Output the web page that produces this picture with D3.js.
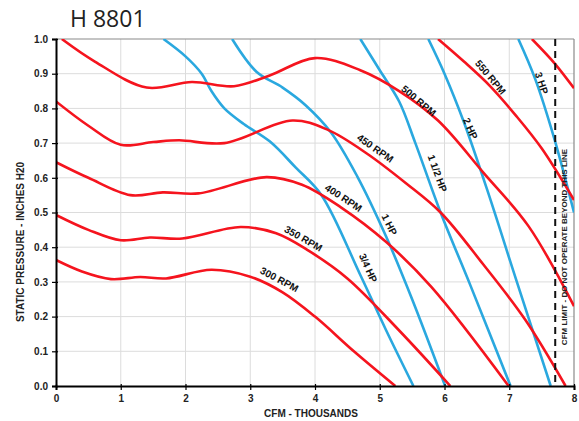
<!DOCTYPE html>
<html>
<head>
<meta charset="utf-8">
<script src="https://cdn.jsdelivr.net/npm/d3@7/dist/d3.min.js"></script>
<style>
body { margin: 0; background: #fff; }
svg text { font-family: "Liberation Sans", Arial, sans-serif; }
</style>
</head>
<body>
<div id="chart"></div>
<script>
//Dados (x = CFM em milhares, y = pol. H2O)
var xTicks = [0, 1, 2, 3, 4, 5, 6, 7, 8];
var yTicks = [0, 0.1, 0.2, 0.3, 0.4, 0.5, 0.6, 0.7, 0.8, 0.9, 1.0];

var rpm300 = [[0,0.363],[0.4,0.33],[0.85,0.308],[1.3,0.314],[1.7,0.31],[2.4,0.335],[3.0,0.315],[3.5,0.27],[4.0,0.2],[4.6,0.1],[5.24,0]];
var rpm350 = [[0,0.493],[0.5,0.45],[1.0,0.42],[1.45,0.428],[1.95,0.425],[2.85,0.458],[3.4,0.44],[3.9,0.39],[4.5,0.31],[5.3,0.16],[6.09,0]];
var rpm400 = [[0,0.645],[0.5,0.6],[1.15,0.55],[1.65,0.558],[2.2,0.555],[3.25,0.602],[3.8,0.58],[4.4,0.515],[5.1,0.415],[5.8,0.285],[6.99,0]];
var rpm450 = [[0,0.82],[0.5,0.75],[1.0,0.695],[1.5,0.703],[1.9,0.708],[2.6,0.7],[3.65,0.765],[4.2,0.738],[4.8,0.67],[5.4,0.585],[5.94,0.5],[6.6,0.35],[7.25,0.19],[7.87,0]];
var rpm500 = [[0.09,1.0],[0.6,0.935],[1.4,0.86],[2.1,0.876],[2.75,0.864],[3.3,0.895],[4.0,0.945],[4.7,0.91],[5.3,0.85],[5.9,0.765],[6.6,0.615],[7.3,0.46],[8,0.23]];
var rpm550 = [[5.9,1.0],[6.3,0.935],[6.7,0.865],[7.1,0.78],[7.5,0.685],[8,0.536]];
var rpm600 = [[7.35,1.0],[7.7,0.93],[8,0.858]];

var hp34 = [[1.66,1.0],[2.0,0.95],[2.25,0.9],[2.4,0.85],[2.6,0.8],[2.9,0.755],[3.3,0.705],[3.7,0.63],[4.1,0.55],[4.7,0.32],[5.1,0.16],[5.52,0]];
var hp1 = [[2.72,1.0],[3.1,0.905],[3.5,0.86],[3.85,0.81],[4.25,0.73],[4.65,0.605],[5.1,0.43],[5.5,0.25],[6.01,0]];
var hp112 = [[4.7,1.0],[5.0,0.91],[5.3,0.82],[5.55,0.7],[5.94,0.5],[6.4,0.29],[7.02,0]];
var hp2 = [[5.75,1.0],[6.0,0.9],[6.3,0.76],[6.66,0.565],[7.1,0.31],[7.64,0]];
var hp3 = [[7.14,1.0],[7.4,0.885],[7.7,0.71],[8,0.5]];

var rpmSeries = [rpm300, rpm350, rpm400, rpm450, rpm500, rpm550, rpm600];
var hpSeries = [hp34, hp1, hp112, hp2, hp3];

var cfmLimit = 7.71;

//Rotulos (texto, x, y, angulo)
var curveLabels = [
	{t: "300 RPM", x: 3.45, y: 0.307, a: 28},
	{t: "350 RPM", x: 3.82, y: 0.425, a: 30},
	{t: "400 RPM", x: 4.44, y: 0.542, a: 33},
	{t: "450 RPM", x: 4.93, y: 0.685, a: 35},
	{t: "500 RPM", x: 5.6, y: 0.822, a: 40},
	{t: "550 RPM", x: 6.71, y: 0.89, a: 50},
	{t: "3/4 HP", x: 4.82, y: 0.34, a: 66},
	{t: "1 HP", x: 5.15, y: 0.465, a: 63},
	{t: "1 1/2 HP", x: 5.89, y: 0.613, a: 70},
	{t: "2 HP", x: 6.4, y: 0.742, a: 66},
	{t: "3 HP", x: 7.5, y: 0.873, a: 72}
];

var margin = {top: 39, right: 5, bottom: 35, left: 56};
var W = 579, H = 421;
var width = W - margin.left - margin.right;
var height = H - margin.top - margin.bottom;

var x = d3.scaleLinear().domain([0, 8]).range([0, width]);
var y = d3.scaleLinear().domain([0, 1]).range([height, 0]);

var svg = d3.select("#chart").append("svg")
	.attr("width", W)
	.attr("height", H);

svg.append("text")
	.attr("x", 70)
	.attr("y", 27)
	.style("font-family", "'Open Sans', sans-serif")
	.style("font-size", "23px")
	.attr("fill", "#222")
	.text("H 8801");

var g = svg.append("g")
	.attr("transform", "translate(" + margin.left + "," + margin.top + ")");

g.append("defs").append("clipPath")
	.attr("id", "clip")
	.append("rect")
	.attr("width", width)
	.attr("height", height);

//Grade
g.selectAll(".gx").data(xTicks.slice(1, -1)).enter().append("line")
	.attr("x1", function(d) { return x(d); })
	.attr("x2", function(d) { return x(d); })
	.attr("y1", 0).attr("y2", height)
	.attr("stroke", "#dcdcdc").attr("stroke-width", 1);
g.selectAll(".gy").data(yTicks.slice(1, -1)).enter().append("line")
	.attr("y1", function(d) { return y(d); })
	.attr("y2", function(d) { return y(d); })
	.attr("x1", 0).attr("x2", width)
	.attr("stroke", "#dcdcdc").attr("stroke-width", 1);

//Borda superior e direita
g.append("line").attr("x1", 0).attr("x2", width).attr("y1", 0).attr("y2", 0)
	.attr("stroke", "#8a8a8a").attr("stroke-width", 1.2);
g.append("line").attr("x1", width).attr("x2", width).attr("y1", 0).attr("y2", height)
	.attr("stroke", "#8a8a8a").attr("stroke-width", 1.2);

//Linhas
var line = d3.line()
	.x(function(d) { return x(d[0]); })
	.y(function(d) { return y(d[1]); })
	.curve(d3.curveCatmullRom.alpha(0.5));

var plot = g.append("g").attr("clip-path", "url(#clip)");

plot.selectAll(".hp").data(hpSeries).enter().append("path")
	.attr("class", "hp")
	.attr("fill", "none")
	.attr("stroke", "#2aa8df")
	.attr("stroke-width", 2.6)
	.attr("d", line);

plot.selectAll(".rpm").data(rpmSeries).enter().append("path")
	.attr("class", "rpm")
	.attr("fill", "none")
	.attr("stroke", "#f5141e")
	.attr("stroke-width", 2.6)
	.attr("d", line);

//Limite de CFM
g.append("line")
	.attr("x1", x(cfmLimit)).attr("x2", x(cfmLimit))
	.attr("y1", y(1)).attr("y2", y(0))
	.attr("stroke", "#111")
	.attr("stroke-width", 2)
	.attr("stroke-dasharray", "7,5");

g.append("text")
	.attr("transform", "translate(" + (x(cfmLimit) + 12) + "," + 208 + ") rotate(-90)")
	.attr("text-anchor", "middle")
	.style("font-size", "8px")
	.style("font-weight", "bold")
	.attr("fill", "#222")
	.text("CFM LIMIT - DO NOT OPERATE BEYOND THIS LINE");

//Rotulos das curvas
g.selectAll(".lbl").data(curveLabels).enter().append("text")
	.attr("class", "lbl")
	.attr("transform", function(d) {
		return "translate(" + x(d.x) + "," + y(d.y) + ") rotate(" + d.a + ")";
	})
	.attr("text-anchor", "middle")
	.attr("dy", "0.35em")
	.style("font-size", "10px")
	.style("font-weight", "bold")
	.attr("fill", "#111")
	.text(function(d) { return d.t; });

//Eixos
var xAxis = g.append("g")
	.attr("transform", "translate(0," + height + ")")
	.call(d3.axisBottom(x).tickValues(xTicks).tickSize(4).tickPadding(5).tickFormat(d3.format("d")));
var yAxis = g.append("g")
	.call(d3.axisLeft(y).tickValues(yTicks).tickSize(4).tickPadding(4).tickFormat(d3.format(".1f")));

[xAxis, yAxis].forEach(function(a) {
	a.select(".domain").attr("stroke", "#000").attr("stroke-width", 2);
	a.selectAll(".tick line").attr("stroke", "#000").attr("stroke-width", 1.2);
	a.selectAll(".tick text")
		.style("font-family", "'Liberation Sans', Arial, sans-serif")
		.style("font-size", "10px")
		.style("font-weight", "bold")
		.attr("fill", "#222");
});
xAxis.selectAll(".tick line").attr("y1", -2);
yAxis.selectAll(".tick line").attr("x1", 2);

g.append("text")
	.attr("x", x(4) - 4)
	.attr("y", height + 31)
	.attr("text-anchor", "middle")
	.style("font-size", "10px")
	.style("font-weight", "bold")
	.attr("fill", "#222")
	.text("CFM - THOUSANDS");

g.append("text")
	.attr("transform", "translate(" + (-32) + "," + 203 + ") rotate(-90)")
	.attr("text-anchor", "middle")
	.style("font-size", "10px")
	.style("font-weight", "bold")
	.attr("fill", "#222")
	.text("STATIC PRESSURE - INCHES H20");
</script>
</body>
</html>
